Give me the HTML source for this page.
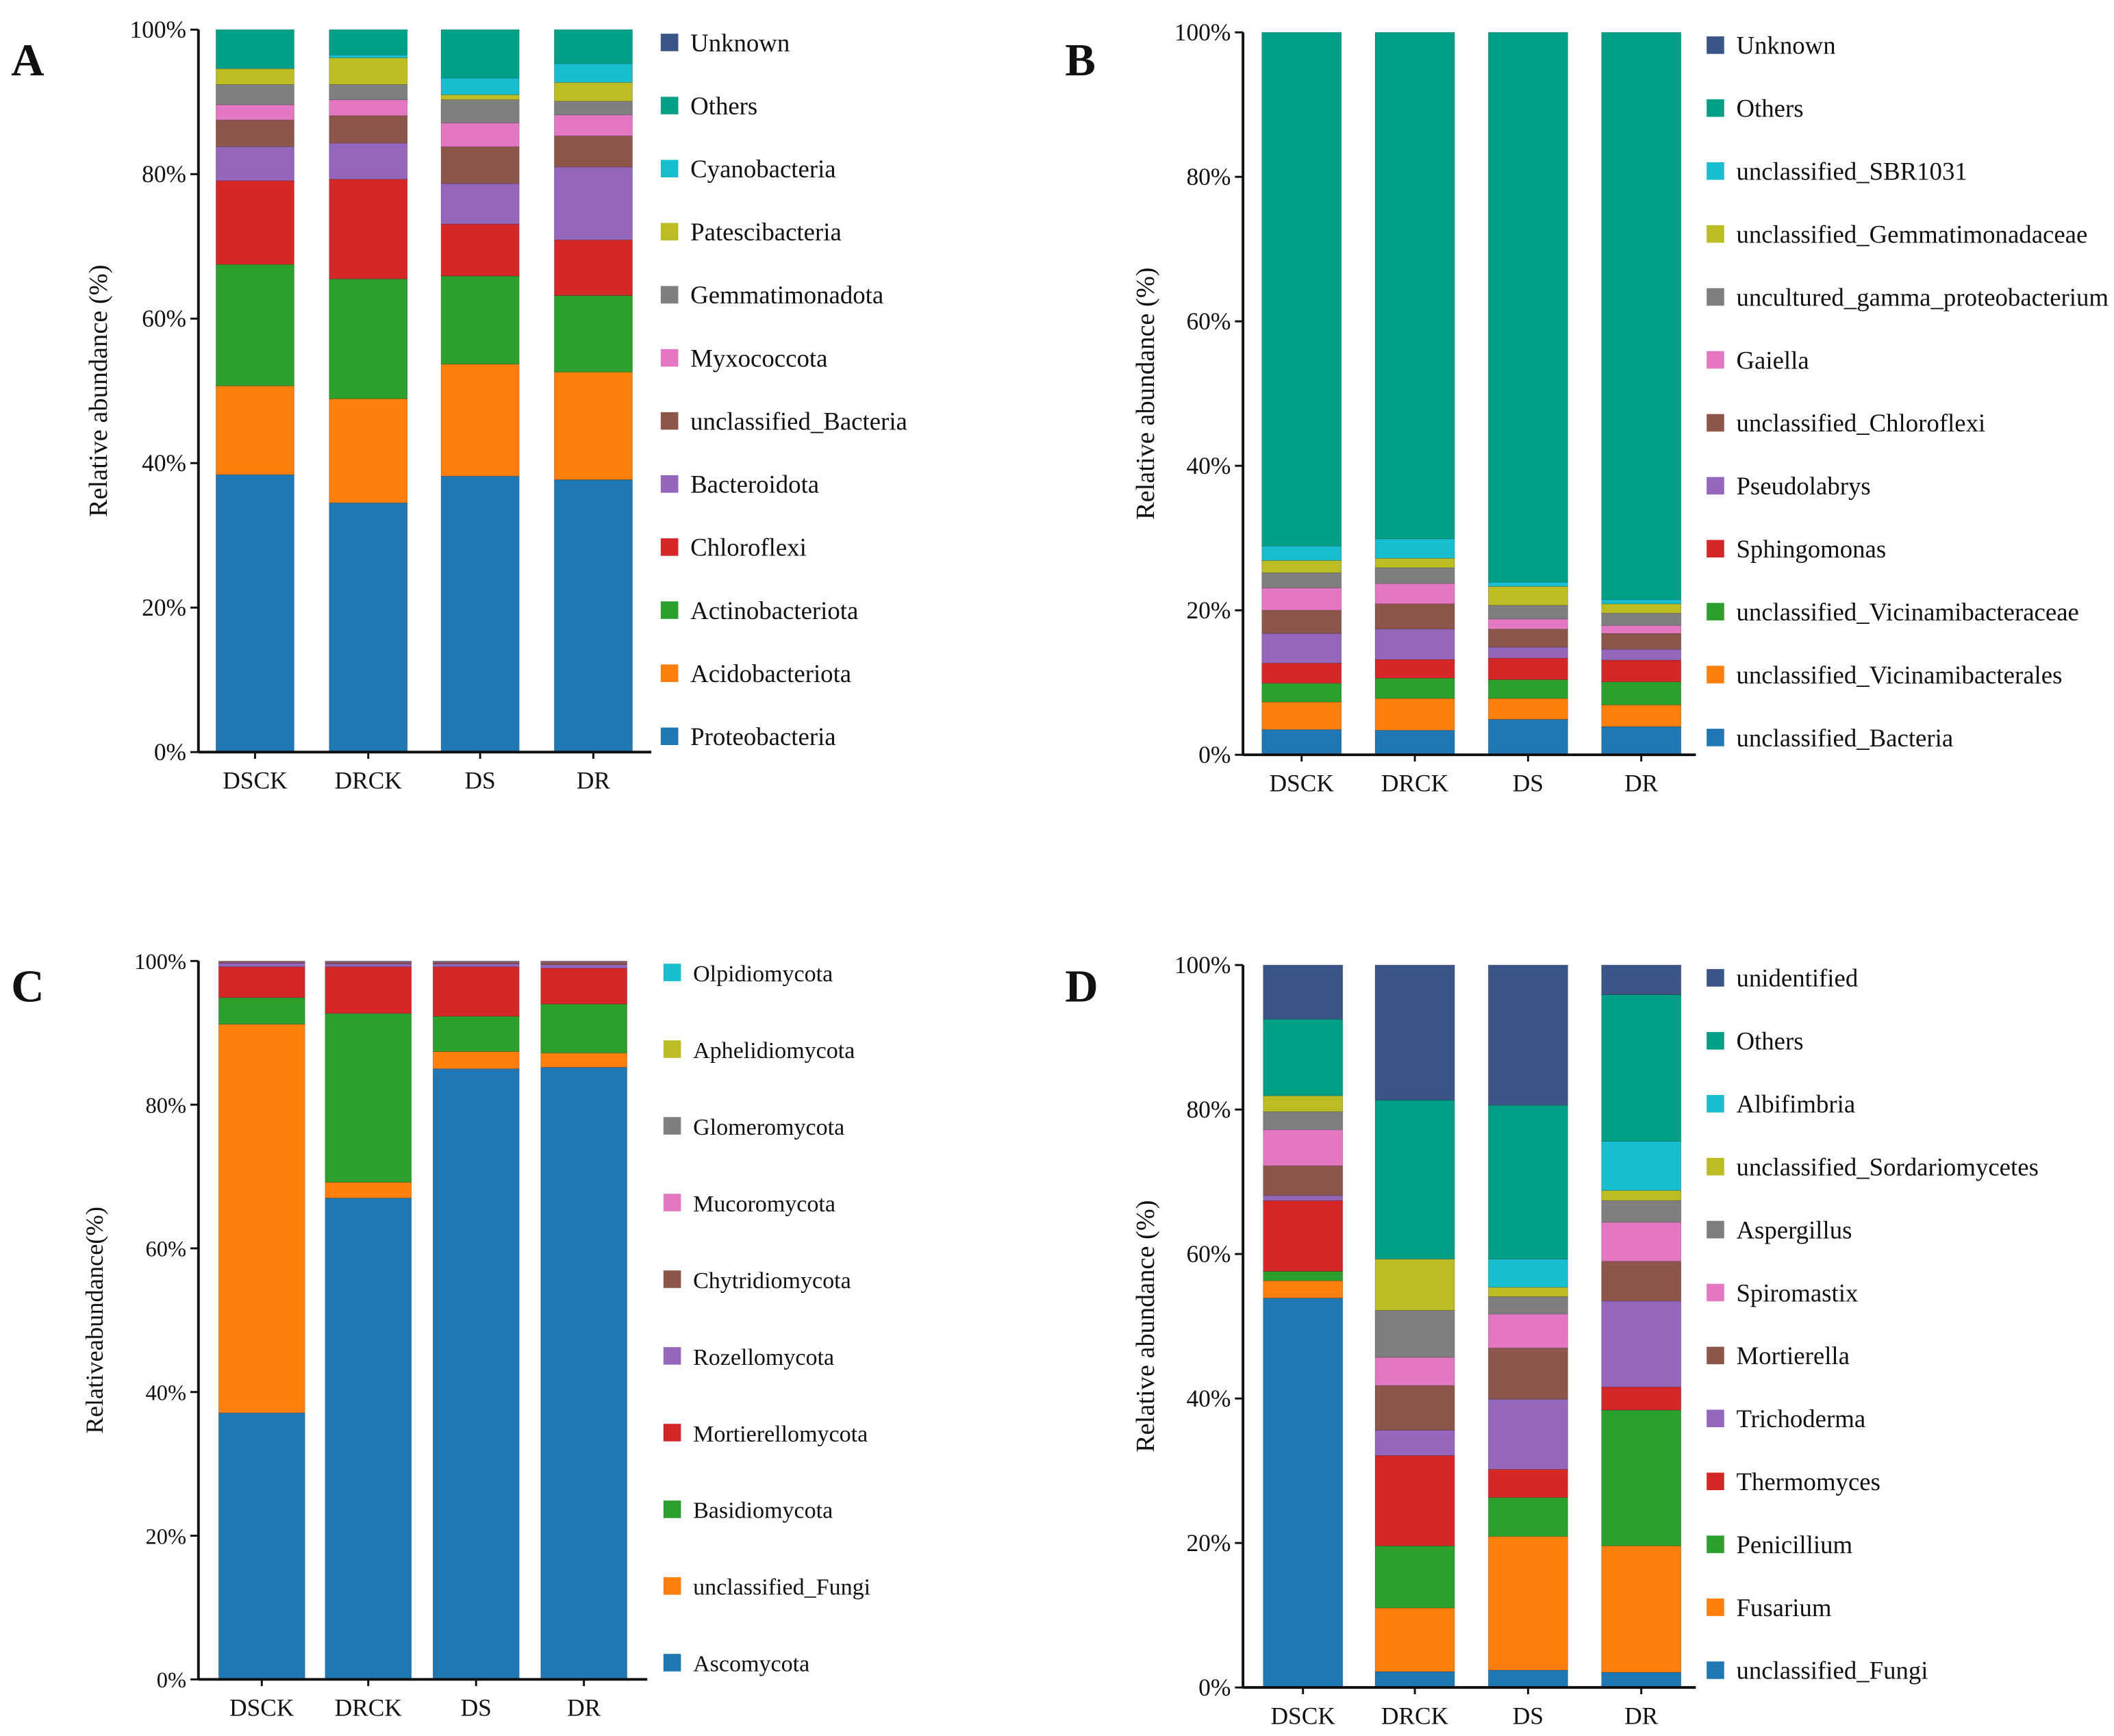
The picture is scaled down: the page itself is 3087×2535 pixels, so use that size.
<!DOCTYPE html>
<html><head><meta charset="utf-8"><style>
html,body{margin:0;padding:0;background:#fff;}
svg{display:block;font-family:"Liberation Serif",serif;}
</style></head><body>
<svg id="fig" xmlns="http://www.w3.org/2000/svg" width="3087" height="2535" viewBox="0 0 1568 1288"></svg>
<script>
const groups = ["DSCK","DRCK","DS","DR"];
// Panel A (bottom-to-top order)
const seriesA = ["Proteobacteria","Acidobacteriota","Actinobacteriota","Chloroflexi","Bacteroidota","unclassified_Bacteria","Myxococcota","Gemmatimonadota","Patescibacteria","Cyanobacteria","Others","Unknown"];
const valuesA = [
 [38.4,12.3,16.8,11.6,4.7,3.7,2.1,2.8,2.2,0.0,5.4,0],
 [34.5,14.4,16.6,13.8,5.0,3.8,2.2,2.1,3.7,0.4,3.5,0],
 [38.2,15.5,12.2,7.2,5.6,5.1,3.3,3.2,0.7,2.3,6.7,0],
 [37.7,14.9,10.6,7.7,10.1,4.3,2.9,1.9,2.6,2.6,4.7,0]
];
// Panel B
const seriesB = ["unclassified_Bacteria","unclassified_Vicinamibacterales","unclassified_Vicinamibacteraceae","Sphingomonas","Pseudolabrys","unclassified_Chloroflexi","Gaiella","uncultured_gamma_proteobacterium","unclassified_Gemmatimonadaceae","unclassified_SBR1031","Others","Unknown"];
const valuesB = [
 [3.5,3.8,2.6,2.8,4.1,3.2,3.1,2.1,1.7,2.0,71.1,0],
 [3.4,4.4,2.8,2.6,4.2,3.5,2.8,2.2,1.3,2.7,70.1,0],
 [4.9,2.9,2.6,3.0,1.5,2.5,1.4,1.9,2.6,0.6,76.1,0],
 [3.9,3.0,3.2,3.0,1.5,2.2,1.1,1.7,1.3,0.6,78.5,0]
];
// Panel C
const seriesC = ["Ascomycota","unclassified_Fungi","Basidiomycota","Mortierellomycota","Rozellomycota","Chytridiomycota","Mucoromycota","Glomeromycota","Aphelidiomycota","Olpidiomycota"];
const valuesC = [
 [37.1,54.1,3.7,4.3,0.5,0.1,0.1,0.1,0,0],
 [67.0,2.2,23.5,6.5,0.4,0.2,0.1,0.1,0,0],
 [85.0,2.4,4.9,6.9,0.4,0.2,0.1,0.1,0,0],
 [85.2,2.0,6.8,5.0,0.5,0.3,0.1,0.1,0,0]
];
// Panel D
const seriesD = ["unclassified_Fungi","Fusarium","Penicillium","Thermomyces","Trichoderma","Mortierella","Spiromastix","Aspergillus","unclassified_Sordariomycetes","Albifimbria","Others","unidentified"];
const valuesD = [
 [53.9,2.4,1.3,9.8,0.7,4.1,5.0,2.5,2.2,0,10.6,7.5],
 [2.2,8.8,8.6,12.5,3.5,6.2,3.9,6.5,7.1,0,22.0,18.7],
 [2.4,18.5,5.4,3.9,9.7,7.1,4.7,2.4,1.3,3.9,21.3,19.4],
 [2.1,17.5,18.8,3.2,11.9,5.5,5.4,3.0,1.4,6.8,20.3,4.1]
];
const yTicks = [0,20,40,60,80,100];
const tickLabels = ["0%","20%","40%","60%","80%","100%"];

const pal12 = ["#1f77b4","#ff7f0e","#2ca02c","#d62728","#9467bd","#8c564b","#e377c2","#7f7f7f","#bcbd22","#17becf","#00a087","#3c5488"];
const pal10 = ["#1f77b4","#ff7f0e","#2ca02c","#d62728","#9467bd","#8c564b","#e377c2","#7f7f7f","#bcbd22","#17becf"];
const NS="http://www.w3.org/2000/svg";
const svg=document.getElementById('fig');
function mk(tag,attrs,parent){const e=document.createElementNS(NS,tag);for(const k in attrs)e.setAttribute(k,attrs[k]);(parent||svg).appendChild(e);return e;}

function panel(cfg){
  const g=mk('g',{});
  
  
  const y=v=>cfg.y0-(cfg.y0-cfg.y1)*v/100;
  const lt=mk('text',{x:cfg.lx,y:cfg.ly,'font-size':34,'font-weight':'bold',fill:'#111'},g);lt.textContent=cfg.letter;
  
  
  groups.forEach((grp,i)=>{
    let acc=0;
    cfg.values[i].forEach((v,j)=>{
      if(v<=0)return;
      const r=mk('rect',{x:cfg.barX[i],y:y(acc+v),width:cfg.bw,height:y(acc)-y(acc+v),fill:cfg.pal[j],stroke:'rgba(0,0,0,0.25)','stroke-width':0.4},g);
      
      
      acc+=v;
    });
    const t=mk('text',{x:cfg.barX[i]+cfg.bw/2,y:cfg.y0+27,'font-size':cfg.xfs,'text-anchor':'middle',fill:'#111'},g);t.textContent=grp;
    
    
    mk('line',{x1:cfg.barX[i]+cfg.bw/2,x2:cfg.barX[i]+cfg.bw/2,y1:cfg.y0,y2:cfg.y0+5,stroke:'#111','stroke-width':1.5},g);
  });
  const ya=mk('line',{x1:cfg.ax,x2:cfg.ax,y1:cfg.y1,y2:cfg.y0,stroke:'#111','stroke-width':2},g);
  
  
  const xa=mk('line',{x1:cfg.ax,x2:cfg.axEnd,y1:cfg.y0,y2:cfg.y0,stroke:'#111','stroke-width':2},g);
  
  
  yTicks.forEach((v,k)=>{
    mk('line',{x1:cfg.ax-6,x2:cfg.ax,y1:y(v),y2:y(v),stroke:'#111','stroke-width':1.5},g);
    const t=mk('text',{x:cfg.ax-9,y:y(v)+6,'font-size':cfg.tfs,'text-anchor':'end',fill:'#111'},g);t.textContent=tickLabels[k];
    
    
  });
  const mid=(cfg.y0+cfg.y1)/2;
  const yt=mk('text',{x:cfg.titleX,y:mid,'font-size':cfg.afs,'text-anchor':'middle',fill:'#111',transform:`rotate(-90 ${cfg.titleX} ${mid})`},g);yt.textContent=cfg.title;
  
  
  const n=cfg.series.length;
  for(let j=n-1;j>=0;j--){
    const row=n-1-j;const ly=cfg.legY0+row*cfg.legStep;
    const lg=mk('g',{},g);
    
    
    mk('rect',{x:cfg.legX,y:ly-7,width:13,height:13,fill:cfg.pal[j]},lg);
    const t=mk('text',{x:cfg.legX+22,y:ly+6,'font-size':cfg.lfs,fill:'#111'},lg);t.textContent=cfg.series[j];
  }
}
panel({letter:'A',lx:8,ly:56,series:seriesA,values:valuesA,pal:pal12,y0:558,y1:22,ax:147,axEnd:483,barX:[160,244,327,411],bw:58,titleX:79,title:'Relative abundance (%)',xfs:18,afs:19.5,tfs:18,lfs:18.7,legX:490,legY0:32,legStep:46.8});
panel({letter:'B',lx:790,ly:56,series:seriesB,values:valuesB,pal:pal12,y0:560,y1:24,ax:922,axEnd:1258,barX:[936,1020,1104,1188],bw:59,titleX:856,title:'Relative abundance (%)',xfs:18,afs:19.5,tfs:18,lfs:18.7,legX:1266,legY0:34,legStep:46.7});
panel({letter:'C',lx:8,ly:743,series:seriesC,values:valuesC,pal:pal10,y0:1246,y1:713,ax:147,axEnd:480,barX:[162,241,321,401],bw:64,titleX:76,title:'Relativeabundance(%)',xfs:18,afs:18.5,tfs:16.5,lfs:17.3,legX:492,legY0:722,legStep:56.9});
panel({letter:'D',lx:790,ly:743,series:seriesD,values:valuesD,pal:pal12,y0:1252,y1:716,ax:922,axEnd:1258,barX:[937,1020,1104,1188],bw:59,titleX:856,title:'Relative abundance (%)',xfs:18,afs:19.5,tfs:18,lfs:18.7,legX:1266,legY0:726,legStep:46.7});
</script>
</body></html>
